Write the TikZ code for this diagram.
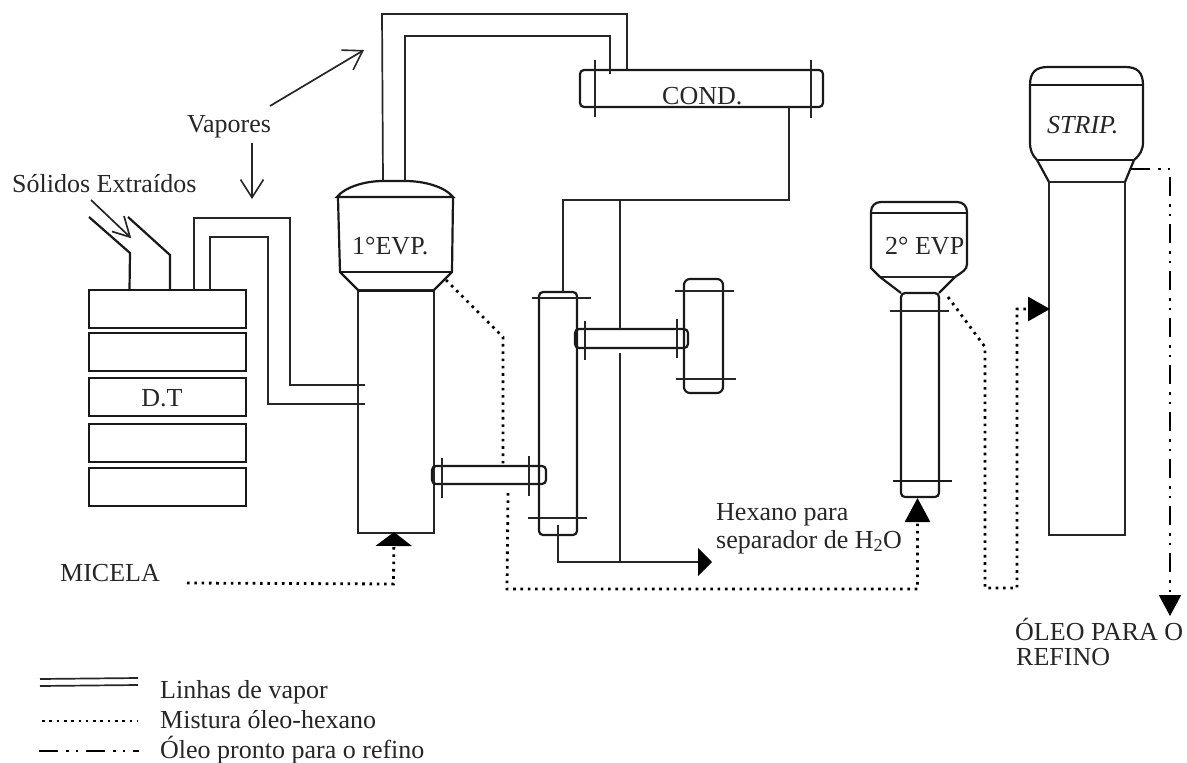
\documentclass[tikz,border=0pt]{standalone}
\usepackage{fontspec}
\setmainfont{Liberation Serif}
\usetikzlibrary{arrows.meta,calc}
\tikzset{
  ln/.style={line width=1.7pt,color=black!85,line join=miter},
  hv/.style={line width=2.2pt,color=black!90},
  tk/.style={line width=1.4pt,color=black!85},
  oil/.style={line width=2.8pt,color=black,dash pattern=on 2.6pt off 4.7pt},
  ref/.style={line width=2.1pt,color=black,dash pattern=on 19pt off 8pt on 2.5pt off 7pt on 2.5pt off 8pt},
  box/.style={draw,hv,rectangle,inner sep=0pt,minimum width=157pt},
  pipe/.style={draw,hv,rectangle,rounded corners=4pt,inner sep=0pt},
  open/.style={-{Straight Barb[length=18pt,width=23pt,line width=1.6pt]},line width=1.7pt,color=black!85},
  lbl/.style={inner sep=0pt,font=\fontsize{26}{31}\selectfont,color=black!85},
  lblL/.style={lbl,anchor=base west,align=left},
}
\begin{document}
\begin{tikzpicture}[x=1pt,y=-1pt]
\useasboundingbox (0,0) rectangle (1187,763);

% D.T stack
\node[box,minimum height=38pt] (dt1) at (167.5,309) {};
\node[box,minimum height=38pt] (dt2) at (167.5,352) {};
\node[box,minimum height=38pt] (dt3) at (167.5,397) {};
\node[box,minimum height=38pt] (dt4) at (167.5,443) {};
\node[box,minimum height=38pt] (dt5) at (167.5,487) {};
\node[lbl] (dtl) at (162,398) {D.T};

% solids chute
\coordinate (chA) at (129.5,290);
\coordinate (chB) at (170,290);
\draw[hv] (89,217) -- (130,253) -- (chA);
\draw[hv] (128,217) -- (170,255) -- (chB);
\draw[line width=1.7pt,color=black!85] (91,200) -- (130,237);
\draw[line width=1.7pt,color=black!85] (112,231.5) -- (130,237) -- (124,216);
\node[lblL] (sol) at (12,192) {Sólidos Extraídos};

% 1st evaporator
\node[draw,ln,rectangle,inner sep=0pt,minimum width=76pt,minimum height=243pt] (col1) at (396,411.5) {};
\draw[hv] (337,197) .. controls (345,187) and (365,181) .. (383,181) -- (405,181) .. controls (425,181) and (445,187) .. (453,197) -- cycle;
\draw[hv] (338,198) -- (340,272) -- (358,290);
\draw[hv] (453,198) -- (452,272) -- (434,290);
\draw[hv] (339,272) -- (452,272);
\draw[hv] (358,291) -- (434,291);
\node[lblL] (e1) at (352,254) {1°EVP.};
\coordinate (e1a) at (383,181);
\coordinate (e1b) at (405,181);

% vapour D.T -> 1st EVP
\coordinate (dta) at (194,290);
\coordinate (dtb) at (210,290);
\coordinate (e1c) at (365,385);
\coordinate (e1d) at (365,404);
\draw[ln] (dta) -- (194,218) -- (290,218) -- (290,385) -- (e1c);
\draw[ln] (dtb) -- (210,237) -- (268,237) -- (268,404) -- (e1d);

% condenser
\node[pipe,minimum width=243pt,minimum height=37pt] (cond) at (701.5,88.5) {};
\draw[tk] (595,60) -- (595,117);
\draw[tk] (811,60) -- (811,118);
\node[lblL] (cl) at (662,104) {COND.};
\coordinate (ca) at (627,70);
\coordinate (cb) at (610,74);
\draw[ln] (e1a) -- (382,14) -- (627,14) -- (ca);
\draw[ln] (e1b) -- (405,36) -- (610,36) -- (cb);

% intermediate column
\node[pipe,minimum width=38pt,minimum height=243pt] (c2) at (558,413.5) {};
\draw[tk] (532,298) -- (591,298);
\draw[tk] (528,518) -- (587,518);
\node[pipe,minimum width=114pt,minimum height=18pt] (p1) at (489,475) {};
\draw[tk] (442,458) -- (442,498);
\draw[tk] (529,456) -- (529,496);
\node[pipe,minimum width=113pt,minimum height=19pt] (p2) at (631.5,338.5) {};
\draw[tk] (585,321) -- (585,360);
\draw[tk] (677,319) -- (677,358);
\node[pipe,minimum width=39pt,minimum height=114pt,rounded corners=6pt] (c3) at (703.5,336) {};
\draw[tk] (675,291) -- (734,291);
\draw[tk] (676,379) -- (736,379);

% condensate lines
\coordinate (cc) at (789,107);
\coordinate (c2t) at (563,292);
\coordinate (j1) at (620,200);
\coordinate (c2b) at (558,525);
\coordinate (hx) at (712,562);
\coordinate (j2) at (620,562);
\coordinate (p2t) at (620,329);
\coordinate (p2b) at (620,353);
\draw[ln] (cc) -- (789,200) -- (563,200) -- (c2t);
\draw[ln] (j1) -- (p2t);
\draw[ln] (p2b) -- (j2);
\draw[ln,-{Triangle[length=14pt,width=28pt,color=black]}] (c2b) -- (558,562) -- (hx);
\node[lblL] (hex1) at (716,520) {Hexano para};
\node[lblL] (hex2) at (716,548) {separador de H\textsubscript{2}O};

% 2nd evaporator
\node[pipe,minimum width=38pt,minimum height=204pt] (c4) at (920,395) {};
\draw[hv] (880,277) -- (871,268) -- (871,212) .. controls (871,206) and (875,202) .. (881,202) -- (957,202) .. controls (963,202) and (967,206) .. (967,212) -- (967,264) .. controls (967,270) and (962,272) .. (955,277);
\draw[hv] (871,213) -- (967,213);
\draw[ln] (880,277) -- (955,277);
\draw[hv] (880,277) -- (901,293);
\draw[hv] (955,277) -- (939,293);
\draw[tk] (890,311) -- (949,311);
\draw[hv] (893,481) -- (952,481);
\node[lblL] (e2) at (885,254) {2° EVP};
\coordinate (c4b) at (917.5,498);

% stripper
\node[draw,ln,rectangle,inner sep=0pt,minimum width=76pt,minimum height=353pt] (c5) at (1087,358.5) {};
\draw[hv] (1037,160) .. controls (1032,155) and (1030,150) .. (1030,142) -- (1030,85) .. controls (1030,72) and (1036,67) .. (1048,67) -- (1125,67) .. controls (1137,67) and (1143,72) .. (1143,85) -- (1143,142) .. controls (1143,150) and (1140,155) .. (1134,160);
\draw[hv] (1030,85) -- (1143,85);
\draw[hv] (1037,160) -- (1134,160);
\draw[hv] (1037,160) -- (1049,182);
\draw[hv] (1134,160) -- (1125,182);
\node[lblL,font=\fontsize{26}{31}\selectfont\itshape] (st) at (1047,133) {STRIP.};
\coordinate (c5w) at (1050,309);
\coordinate (c5e) at (1131,169);

% oil-hexane lines
\coordinate (m0) at (187,583);
\coordinate (c1b) at (394,532);
\draw[oil,-{Triangle[length=14pt,width=36pt,color=black]}] (m0) -- (393.5,584) -- (c1b);
\node[lblL] (mic) at (60,581) {MICELA};
\coordinate (e1o) at (446,280);
\coordinate (p1t) at (503,465);
\coordinate (p1b) at (508,493);
\draw[oil] (e1o) -- (503,337) -- (p1t);
\draw[oil,-{Triangle[length=24pt,width=25pt,color=black]}] (p1b) -- (507,589) -- (917.5,589) -- (c4b);
\coordinate (e2o) at (948,297);
\draw[oil,-{Triangle[length=22pt,width=24pt,color=black]}] (e2o) -- (985,347) -- (985,588) -- (1017,588) -- (1017,309) -- (c5w);

% refined oil
\coordinate (ro) at (1170,616);
\draw[ref,-{Triangle[length=21pt,width=22pt,color=black]}] (c5e) -- (1170,169) -- (ro);
\node[lblL] (ref1) at (1015,640) {ÓLEO PARA O};
\node[lblL] (ref2) at (1016,665) {REFINO};

% Vapores
\node[lblL] (vap) at (187,132) {Vapores};
\coordinate (vapa) at (364,50);
\coordinate (vapb) at (252,199);
\draw[open] (270,106) -- (vapa);
\draw[open] (252,143) -- (vapb);

% legend
\coordinate (l1a) at (40,679); \coordinate (l1b) at (138,678);
\coordinate (l2a) at (40,686); \coordinate (l2b) at (138,685);
\coordinate (l3a) at (42,721); \coordinate (l3b) at (137,721);
\coordinate (l4a) at (39,751); \coordinate (l4b) at (139,751);
\draw[ln] (l1a) -- (l1b);
\draw[ln] (l2a) -- (l2b);
\draw[oil] (l3a) -- (l3b);
\draw[ref] (l4a) -- (l4b);
\node[lblL] (t1) at (160,698) {Linhas de vapor};
\node[lblL] (t2) at (160,728) {Mistura óleo-hexano};
\node[lblL] (t3) at (160,758) {Óleo pronto para o refino};
\end{tikzpicture}
\end{document}
